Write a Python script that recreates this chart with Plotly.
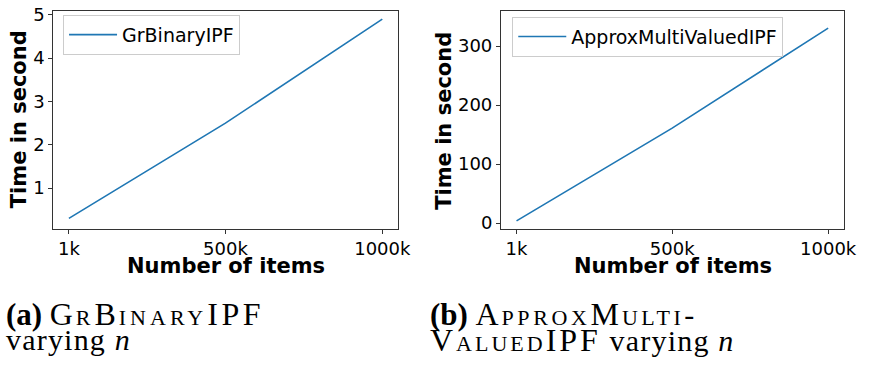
import plotly.graph_objects as go

# ---- data ----
items_k = [1, 500, 1000]
tick_vals = [1, 500, 1000]
tick_text = ["1k", "500k", "1000k"]
gr_binary_ipf = [0.30, 2.50, 4.90]
approx_multi_valued_ipf = [3.8, 161.0, 330.5]

W, H = 874, 370
BLUE = "#1f77b4"
SANS = "DejaVu Sans"
SERIF = "Liberation Serif"

def px(x):
    return x / W

def py(y):
    return 1 - y / H

fig = go.Figure()
fig.add_trace(go.Scatter(x=items_k, y=gr_binary_ipf, mode="lines", name="GrBinaryIPF",
                         line=dict(color=BLUE, width=1.6), xaxis="x", yaxis="y", legend="legend"))
fig.add_trace(go.Scatter(x=items_k, y=approx_multi_valued_ipf, mode="lines", name="ApproxMultiValuedIPF",
                         line=dict(color=BLUE, width=1.6), xaxis="x2", yaxis="y2", legend="legend2"))

ax_common = dict(showline=True, mirror=True, linecolor="#333333", linewidth=1,
                 ticks="outside", ticklen=4, tickwidth=1, tickcolor="#333333",
                 showgrid=False, zeroline=False, ticklabeloverflow="allow",
                 tickfont=dict(family=SANS, size=18, color="black"))

ydom = [py(229.5), py(4.8)]
leg_common = dict(xanchor="left", yanchor="top", itemwidth=48,
                  bgcolor="rgba(255,255,255,0.8)", bordercolor="#cccccc", borderwidth=1,
                  font=dict(family=SANS, size=19, color="black"))
fig.update_layout(
    width=W, height=H, margin=dict(l=0, r=0, t=0, b=0),
    paper_bgcolor="white", plot_bgcolor="white",
    xaxis=dict(domain=[px(54), px(404)], range=[-49, 1050], tickvals=tick_vals, ticktext=tick_text, **ax_common),
    yaxis=dict(domain=ydom, range=[0.063, 5.097], tickvals=[1, 2, 3, 4, 5], anchor="x", **ax_common),
    xaxis2=dict(domain=[px(508.5), px(856.5)], range=[-49, 1050], tickvals=tick_vals, ticktext=tick_text, anchor="y2", **ax_common),
    yaxis2=dict(domain=ydom, range=[-9.4, 360], tickvals=[0, 100, 200, 300], anchor="x2", **ax_common),
    legend=dict(x=px(64), y=py(9), **leg_common),
    legend2=dict(x=px(520), y=py(11), **leg_common),
    showlegend=True,
)

title_font = dict(family=SANS, size=21, color="black")
anns = [
    dict(text="<b>Number of items</b>", x=px(229), y=py(268), xanchor="center", yanchor="middle", font=title_font),
    dict(text="<b>Number of items</b>", x=px(683), y=py(268), xanchor="center", yanchor="middle", font=title_font),
    dict(text="<b>Time in second</b>", x=px(19), y=py(117), xanchor="center", yanchor="middle", textangle=-90, font=title_font),
    dict(text="<b>Time in second</b>", x=px(451), y=py(118), xanchor="center", yanchor="middle", textangle=-90, font=title_font),
]

cap_font = dict(family=SERIF, size=30, color="black")

def big(s, ls):
    return f"<span style='font-size:32px;letter-spacing:{ls}px'>{s}</span>"

def sc(s, ls):
    return f"<span style='font-size:22px;letter-spacing:{ls}px'>{s}</span>"

def plain(s):
    return f"<span style='letter-spacing:1.2px'>{s}</span>"

bold_a = "<span style='font-size:31px'><b>(a)</b></span> "
bold_b = "<span style='font-size:31px'><b>(b)</b></span> "
captions = [
    (bold_a + big("G", 3) + sc("R", 4) + big("B", 3) + sc("INARY", 4) + big("IPF", 3.5), 4, 317),
    (plain("varying <i>n</i>"), 4, 344),
    (bold_b + big("A", 3) + sc("PPROX", 3.6) + big("M", 3) + sc("ULTI", 3.6) + "-", 434, 317),
    (big("V", 3) + sc("ALUED", 3) + big("IPF", 3) + plain(" varying <i>n</i>"), 434, 344),
]
for t, x, y in captions:
    anns.append(dict(text=t, x=px(x), y=py(y), xanchor="left", yanchor="middle", font=cap_font))

for a in anns:
    a.update(xref="paper", yref="paper", showarrow=False)
fig.update_layout(annotations=anns)

fig.write_html("out.html")
